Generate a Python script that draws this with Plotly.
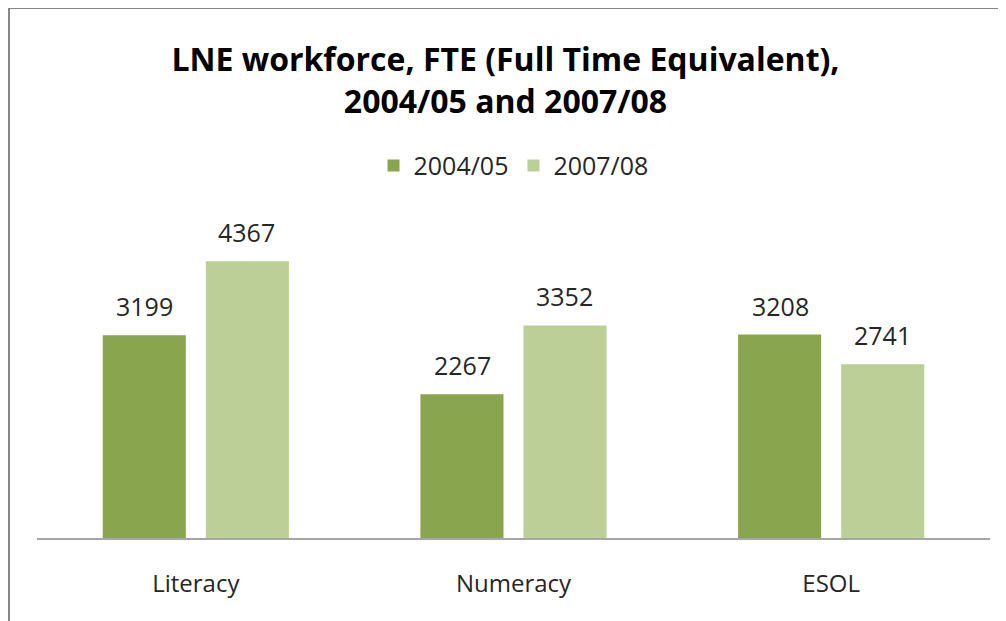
import plotly.graph_objects as go

categories = ["Literacy", "Numeracy", "ESOL"]
series_names = ["2004/05", "2007/08"]
values_0405 = [3199, 2267, 3208]
values_0708 = [4367, 3352, 2741]
colors = ["#89A54E", "#BBCF97"]

FONT = "Open Sans, sans-serif"

fig = go.Figure()
for name, vals, col in zip(series_names, [values_0405, values_0708], colors):
    fig.add_trace(go.Bar(x=categories, y=vals, name=name, marker=dict(color=col, line=dict(width=0))))

# value labels above bars
for vals, shift in zip([values_0405, values_0708], [-51, 51]):
    for c, v in zip(categories, vals):
        fig.add_annotation(x=c, y=v, xref="x", yref="y", text=str(v), showarrow=False,
                           xshift=shift, yshift=29, yanchor="middle",
                           font=dict(family=FONT, size=25, color="#262626"))

fig.update_layout(
    width=1006, height=621,
    paper_bgcolor="white", plot_bgcolor="white",
    margin=dict(l=29, r=24, t=213, b=91),
    barmode="group", bargap=0.351, bargroupgap=0.194,
    title=dict(text="<b>LNE workforce, FTE (Full Time Equivalent),<br>2004/05 and 2007/08</b>",
               x=0.4945, xanchor="center", y=0.898, yanchor="middle", yref="container",
               font=dict(family=FONT, size=32, color="black")),
    legend=dict(orientation="h", x=0.5, xanchor="center", y=1.174, yanchor="middle",
                font=dict(family=FONT, size=25, color="#262626"),
                itemwidth=30, traceorder="normal"),
    xaxis=dict(showline=True, linecolor="#A6A6A6", linewidth=1.5, ticks="",
               tickfont=dict(family=FONT, size=24, color="#262626"), ticklabelstandoff=23),
    yaxis=dict(range=[0, 5000], showgrid=False, showticklabels=False, zeroline=False, showline=False),
    font=dict(family=FONT),
    showlegend=True,
)
fig.add_shape(type="rect", xref="paper", yref="paper", x0=-0.0294, x1=1.2, y0=-0.5, y1=1.672,
              line=dict(color="#868686", width=2), fillcolor="rgba(0,0,0,0)", layer="below")
fig.write_html("out.html")
